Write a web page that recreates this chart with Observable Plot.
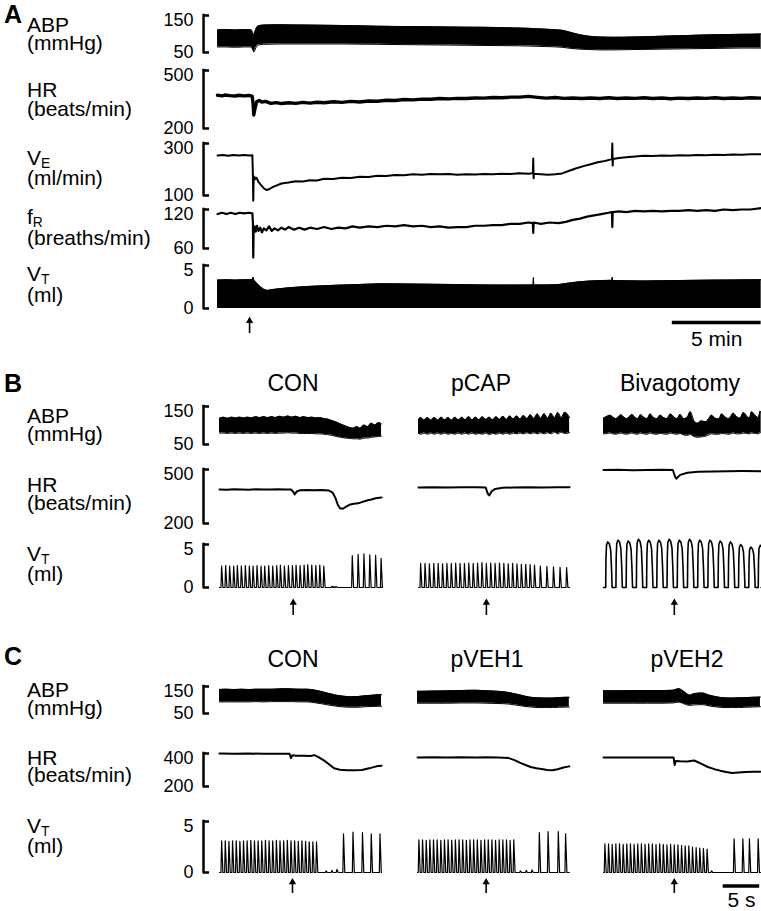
<!DOCTYPE html>
<html><head><meta charset="utf-8">
<script src="https://cdn.jsdelivr.net/npm/d3@7"></script>
<script src="https://cdn.jsdelivr.net/npm/@observablehq/plot@0.6"></script>
<style>
html,body{margin:0;padding:0;background:#fff;}
#fig{position:relative;width:761px;height:911px;overflow:hidden;font-family:"Liberation Sans",Arial,Helvetica,sans-serif;color:#000;background:#fff;}
.tx{position:absolute;white-space:nowrap;line-height:0.8;}
.tx sub{font-size:0.66em;vertical-align:-0.22em;line-height:0;}
</style></head><body><div id="fig"></div><script>
// ---------------- DATA ----------------
// Panel A, time in minutes
const aAbp = [[0,111,65],[0.5,112,65],[1.0,111,64],[1.5,112,65],[1.9,111,65],[1.98,104,58],[2.05,98,51],[2.15,112,62],[2.3,122,70],[2.6,124,72],[3.5,125,73],[5,124,73],[7,123,73],[9,121,72],[11,120,71],[13,119,70],[15,118,69],[17,116,68],[18.5,113,66],[19.4,110,64],[19.9,104,61],[20.4,98,59],[20.9,94,58],[21.5,92,57],[22.3,91,57],[23.5,92,58],[25,94,59],[26.5,96,60],[28,98,61],[29.5,99,62],[30.6,100,62]];
const aHr = [[0,372],[0.25,369],[0.4,373],[0.7,370],[1.0,368],[1.2,372],[1.5,369],[1.75,371],[1.95,367],[2.0,330],[2.04,270],[2.1,300],[2.2,338],[2.35,345],[2.5,336],[2.7,340],[3.0,330],[3.3,334],[3.6,329],[4.0,333],[4.4,330],[4.8,335],[5.2,331],[5.6,336],[6.0,333],[6.5,338],[7,335],[7.5,340],[8,337],[8.5,342],[9,341],[9.5,346],[10,345],[10.5,350],[11,348],[11.5,352],[12,351],[12.5,355],[13,353],[13.5,356],[14,355],[14.5,358],[15,357],[15.5,360],[16,359],[16.5,362],[17,362],[17.5,366],[18,361],[18.5,357],[19,360],[19.5,356],[20,358],[20.5,355],[21,358],[21.5,355],[22,359],[22.5,355],[23,358],[23.5,356],[24,359],[24.5,355],[25,358],[25.5,354],[26,357],[26.5,355],[27,358],[27.5,356],[28,359],[28.5,355],[29,358],[29.5,356],[30,359],[30.6,357]];
const aVe = [[0,254],[0.3,256],[0.6,253],[0.9,256],[1.2,254],[1.5,256],[1.8,254],[1.96,255],[1.99,180],[2.01,80],[2.03,160],[2.07,172],[2.12,163],[2.2,168],[2.3,152],[2.45,140],[2.6,128],[2.75,121],[2.9,124],[3.1,132],[3.3,138],[3.6,146],[4.0,150],[4.4,155],[4.8,154],[5.2,159],[5.6,158],[6.0,164],[6.5,163],[7,168],[7.5,167],[8,172],[8.5,171],[9,176],[9.5,175],[10,179],[10.5,178],[11,182],[11.5,180],[12,183],[12.5,182],[13,183],[13.5,180],[14,182],[14.5,181],[15,183],[15.5,182],[16,184],[16.5,183],[17,186],[17.5,184],[17.75,186],[17.77,242],[17.79,166],[17.81,184],[18.2,182],[18.6,180],[19.0,182],[19.4,185],[19.8,195],[20.2,205],[20.6,213],[21.0,220],[21.4,228],[21.8,233],[22.1,238],[22.2,240],[22.22,300],[22.24,215],[22.26,240],[22.6,244],[23,247],[23.5,250],[24,253],[24.5,252],[25,254],[25.5,253],[26,255],[26.5,254],[27,256],[27.5,255],[28,257],[28.5,256],[29,258],[29.5,257],[30,259],[30.6,259]];
const aFr = [[0,113],[0.25,115],[0.5,113],[0.75,115],[1.0,113],[1.25,115],[1.5,114],[1.75,115],[1.96,114],[1.99,100],[2.01,46],[2.03,85],[2.08,94],[2.15,86],[2.22,95],[2.3,87],[2.4,92],[2.5,85],[2.6,91],[2.75,88],[2.9,94],[3.05,87],[3.2,91],[3.4,88],[3.6,92],[3.8,89],[4.0,93],[4.3,89],[4.6,92],[4.9,89],[5.2,92],[5.6,90],[6.0,93],[6.4,90],[6.8,92],[7.2,91],[7.6,94],[8.0,92],[8.5,94],[9,93],[9.5,95],[10,94],[10.5,96],[11,94],[11.5,95],[12,93],[12.5,94],[13,92],[13.5,93],[14,93],[14.5,95],[15,95],[15.5,96],[16,96],[16.5,98],[17,98],[17.5,100],[17.75,99],[17.77,84],[17.79,100],[18.2,98],[18.7,100],[19.2,99],[19.6,101],[20,104],[20.4,106],[20.8,109],[21.2,111],[21.6,113],[22.0,115],[22.2,116],[22.22,93],[22.24,116],[22.6,117],[23,116],[23.5,118],[24,117],[24.5,118],[25,117],[25.5,118],[26,118],[26.5,119],[27,118],[27.5,119],[28,118],[28.5,120],[29,119],[29.5,120],[30,120],[30.6,122]];
const aVt = [[0,3.3],[0.5,3.35],[1,3.3],[1.5,3.35],[1.95,3.35],[2.0,3.65],[2.05,3.3],[2.2,2.95],[2.4,2.55],[2.6,2.25],[2.8,2.1],[3.1,2.2],[3.5,2.3],[4,2.4],[5,2.55],[6,2.65],[7,2.72],[8,2.8],[9.2,2.88],[10.5,2.86],[12,2.82],[13.5,2.78],[15,2.74],[16.5,2.72],[17.5,2.74],[17.76,2.74],[17.78,3.6],[17.8,2.74],[18.5,2.74],[19.2,2.78],[19.8,2.95],[20.4,3.12],[21,3.2],[21.6,3.25],[22.2,3.27],[22.22,3.65],[22.24,3.25],[23,3.22],[24,3.2],[25,3.23],[26,3.25],[27,3.28],[28,3.3],[29,3.32],[30,3.34],[30.6,3.35]];
const aArrow = [1.8];
const aScale = {len: 5, end: 30.6, label: "5 min"};

// Panel B, time in seconds
const bConAbp = [[0,119,80],[0.55,122,80],[1.1,119,79],[1.65,122,80],[2.2,120,79],[2.75,122,80],[3.3,120,79],[3.85,122,80],[4.4,120,79],[4.95,123,80],[5.5,121,79],[6.05,123,80],[6.6,121,79],[7.15,123,80],[7.7,121,79],[8.25,124,80],[8.8,122,80],[9.35,125,81],[9.9,122,80],[10.45,124,80],[11,121,79],[11.55,123,79],[12.1,121,79],[12.65,122,79],[13.2,120,78],[13.75,121,78],[14.3,118,77],[14.8,117,76],[15.4,113,74],[16,109,71],[16.6,104,69],[17.2,99,67],[17.8,95,66],[18.3,93,65],[18.8,97,65],[19.3,93,64],[19.8,101,67],[20.3,97,67],[20.8,106,69],[21.3,101,70],[21.8,108,71],[22.2,104,72]];
const bConHr = [[0,389],[1,388],[2,390],[3,389],[4,388],[5,390],[6,389],[7,389],[8,390],[9,389],[9.8,389],[10.1,376],[10.3,362],[10.6,378],[11,384],[12,386],[13,385],[14,386],[15,383],[15.5,372],[15.9,340],[16.2,305],[16.5,285],[16.9,282],[17.3,292],[17.8,304],[18.4,310],[19,312],[19.6,320],[20.2,328],[20.8,333],[21.4,340],[22.2,345]];
const bConVt = [[0.2,2.5],[0.75,2.55],[1.3,2.5],[1.85,2.5],[2.35,2.55],[2.9,2.5],[3.45,2.55],[4.0,2.5],[4.5,2.5],[5.05,2.55],[5.6,2.5],[6.1,2.5],[6.65,2.55],[7.2,2.5],[7.75,2.55],[8.25,2.6],[8.8,2.5],[9.35,2.55],[9.9,2.55],[10.4,2.6],[10.95,2.55],[11.5,2.6],[12.0,2.65],[12.55,2.6],[13.1,2.55],[13.65,2.6],[14.2,2.5],[15.3,0.15],[15.6,0.12],[15.9,0.1],[18.1,3.7],[18.9,3.85],[19.7,3.9],[20.5,3.8],[21.3,3.75],[22.05,3.4]];
const bConArrow = [10.1];
const bCapAbp = [[0,115,79],[0.3,121,77],[0.77,114,80],[1.24,121,77],[1.71,114,80],[2.18,121,77],[2.65,114,80],[3.12,122,77],[3.59,115,80],[4.06,121,77],[4.53,114,79],[5.0,122,77],[5.47,115,80],[5.94,122,77],[6.41,115,80],[6.88,123,77],[7.35,115,80],[7.82,122,77],[8.29,115,79],[8.76,123,77],[9.23,116,80],[9.7,122,76],[10.17,115,79],[10.64,123,77],[11.11,116,80],[11.58,124,77],[12.05,116,80],[12.52,125,77],[12.99,117,80],[13.46,125,78],[13.93,117,80],[14.4,126,78],[14.87,118,81],[15.34,128,78],[15.81,118,81],[16.28,130,78],[16.75,119,81],[17.22,131,78],[17.69,119,81],[18.16,132,78],[18.63,120,82],[19.1,134,78],[19.57,120,82],[20.04,135,79],[20.7,121,81]];
const bCapHr = [[0,400],[2,401],[4,400],[6,402],[8,401],[9.2,400],[9.5,365],[9.7,356],[10,378],[10.5,392],[11.5,398],[13,400],[15,401],[17,400],[19,402],[20.7,401]];
const bCapVt = [[0.2,2.8],[0.8,2.8],[1.4,2.75],[2.0,2.8],[2.6,2.8],[3.2,2.75],[3.8,2.8],[4.4,2.8],[5.0,2.85],[5.6,2.8],[6.2,2.8],[6.8,2.85],[7.4,2.8],[8.0,2.85],[8.6,2.9],[9.2,2.8],[9.8,2.85],[10.4,2.8],[11.0,2.85],[11.6,2.8],[12.2,2.75],[12.8,2.8],[13.4,2.75],[14.0,2.7],[14.6,2.7],[15.2,2.65],[15.8,2.6],[16.6,2.5],[17.5,2.45],[18.4,2.4],[19.3,2.35],[20.2,2.3]];
const bCapArrow = [9.3];
const bBivAbp = [[0,119,78],[0.5,124,79],[0.9,127,80],[1.3,122,78],[1.7,118,77],[2.1,123,79],[2.4,128,80],[2.8,122,78],[3.2,118,77],[3.6,124,79],[3.9,129,80],[4.3,122,78],[4.7,118,77],[5.1,128,80],[5.5,122,78],[6.0,118,77],[6.4,130,80],[6.8,122,78],[7.3,118,77],[7.8,127,79],[8.2,121,78],[8.7,118,77],[9.2,130,80],[9.6,123,78],[10.1,118,77],[10.5,129,79],[11.0,118,75],[11.5,122,74],[11.9,136,76],[12.4,112,71],[12.9,106,69],[13.4,112,70],[14.0,110,72],[14.5,120,76],[14.8,127,78],[15.3,119,77],[15.8,117,77],[16.2,130,79],[16.7,122,78],[17.2,118,77],[17.8,132,80],[18.2,124,78],[18.7,119,78],[19.2,134,80],[19.6,125,79],[20.0,120,78],[20.3,136,80],[20.8,126,79],[21.2,121,78],[21.5,138,81],[21.6,132,80]];
const bBivHr = [[0,497],[2,498],[4,496],[6,497],[8,498],[9.5,497],[9.8,460],[10.0,449],[10.5,470],[11.5,482],[13,487],[15,489],[17,490],[19,491],[21.6,490]];
const bBivVt = [[0.3,5.3],[1.7,5.5],[3.1,5.4],[4.5,5.6],[5.9,5.5],[7.3,5.5],[8.7,5.6],[10.1,5.5],[11.5,5.6],[12.9,5.5],[14.3,5.5],[15.7,5.4],[17.1,5.3],[18.5,5.0],[19.9,4.7],[21.2,4.9]];
const bBivArrow = [9.7];

// Panel C, time in seconds
const cConAbp = [[0,139,93],[1,140,93],[2,139,93],[3,140,93],[4,139,93],[5,140,94],[6,140,93],[7,140,94],[8,141,94],[9,142,94],[10,141,94],[11,140,93],[12,140,93],[13,137,90],[14,131,86],[15,124,81],[16,118,77],[17,114,74],[18,112,73],[19,113,73],[20,116,75],[21,118,76],[22.2,120,77]];
const cConHr = [[0,400],[2,399],[4,400],[6,398],[8,399],[9.6,398],[9.8,372],[10,390],[10.5,386],[11.5,387],[12.5,385],[13.0,390],[13.5,380],[14.3,358],[15,335],[15.7,310],[16.5,302],[17.5,298],[18.5,298],[19.5,300],[20.5,310],[21.5,322],[22.2,326]];
const cConVt = [[0.2,3.1],[0.7,3.1],[1.2,3.05],[1.7,3.1],[2.2,3.1],[2.7,3.05],[3.2,3.1],[3.7,3.1],[4.2,3.15],[4.7,3.1],[5.2,3.1],[5.7,3.1],[6.2,3.15],[6.7,3.1],[7.2,3.1],[7.7,3.15],[8.2,3.1],[8.7,3.1],[9.2,3.15],[9.7,3.1],[10.2,3.1],[10.7,3.05],[11.2,3.1],[11.7,3.05],[12.2,3.0],[12.7,3.0],[13.2,3.0],[14.5,0.15],[15.3,0.2],[16.0,0.3],[16.9,3.8],[18.2,3.95],[19.5,3.9],[20.7,3.8],[21.9,3.8]];
const cConArrow = [10.0];
const cV1Abp = [[0,132,88],[2,133,88],[4,134,88],[6,135,89],[8,136,89],[9.5,134,88],[11,132,87],[12.5,128,85],[13.5,122,81],[14.5,116,77],[15.5,110,74],[16.5,108,72],[17.5,107,72],[18.5,107,72],[19.5,109,73],[20.8,110,74]];
const cV1Hr = [[0,376],[2,377],[4,375],[6,377],[8,376],[9.5,377],[11,375],[12.5,372],[13.3,360],[14,345],[14.8,330],[15.5,318],[16.3,310],[17,306],[17.8,300],[18.5,298],[19.2,305],[20,315],[20.8,322]];
const cV1Vt = [[0.1,3.2],[0.6,3.2],[1.1,3.15],[1.6,3.2],[2.1,3.2],[2.6,3.2],[3.1,3.15],[3.6,3.2],[4.1,3.2],[4.6,3.15],[5.1,3.2],[5.6,3.2],[6.1,3.2],[6.6,3.15],[7.1,3.2],[7.6,3.2],[8.1,3.2],[8.6,3.15],[9.1,3.2],[9.6,3.2],[10.1,3.2],[10.6,3.15],[11.1,3.2],[11.6,3.2],[12.1,3.2],[12.6,3.15],[13.1,3.2],[14.0,0.15],[14.8,0.2],[15.6,0.25],[16.6,3.9],[17.8,4.0],[19.2,4.0],[20.2,3.8]];
const cV1Arrow = [9.4];
const cV2Abp = [[0,134,88],[2,134,88],[4,135,88],[6,135,88],[8,135,88],[9.5,136,89],[10.3,142,92],[11,132,86],[11.8,118,80],[12.5,124,82],[13.5,126,83],[14.5,118,78],[15.5,112,74],[16.5,108,72],[17.5,107,72],[18.5,108,72],[19.5,109,73],[20.5,110,74],[21.5,111,75]];
const cV2Hr = [[0,376],[2,376],[4,375],[6,376],[8,375],[9.6,376],[9.75,330],[9.9,355],[10.5,353],[11.5,352],[12.4,358],[12.8,350],[13.5,335],[14.3,318],[15.2,305],[16,296],[16.8,288],[17.6,282],[18.5,285],[19.5,288],[20.5,290],[21.5,290]];
const cV2Vt = [[0.1,2.8],[0.6,2.8],[1.1,2.75],[1.6,2.8],[2.1,2.8],[2.6,2.75],[3.1,2.8],[3.6,2.8],[4.1,2.75],[4.6,2.8],[5.1,2.8],[5.6,2.75],[6.1,2.8],[6.6,2.8],[7.1,2.75],[7.6,2.8],[8.1,2.75],[8.6,2.7],[9.1,2.75],[9.6,2.7],[10.1,2.7],[10.6,2.65],[11.1,2.6],[11.6,2.6],[12.1,2.5],[12.6,2.45],[13.1,2.4],[13.6,2.35],[14.1,2.3],[14.7,0.15],[17.8,3.3],[19.0,3.3],[19.9,3.3],[21.1,3.3]];
const cV2Arrow = [9.7];
const cScale = {len: 5, end: 21.4, label: "5 s"};

// ---------------- LAYOUT / STYLE ----------------
const FONT = '"Liberation Sans", Arial, Helvetica, sans-serif';
const fig = document.getElementById("fig");
const PPM = 17.77;  // px per minute, panel A
const PPS = 7.3;    // px per second, panels B, C
const SPIKE = [[0,0],[0.09,1],[0.27,0]];
const ARCH = [[0,0],[0.04,0.65],[0.11,0.93],[0.28,1],[0.5,0.96],[0.68,0.82],[0.8,0.4],[0.88,0]];
const LH = 0.8, BASE = (LH - 1.117) / 2 + 0.905;

function text(html, x, baseline, size, extra = {}) {
  const d = document.createElement("div");
  d.className = "tx";
  d.innerHTML = html;
  d.style.fontSize = size + "px";
  d.style.top = (baseline - BASE * size) + "px";
  d.style.left = x + "px";
  if (extra.center) d.style.transform = "translateX(-50%)";
  if (extra.bold) d.style.fontWeight = "bold";
  fig.appendChild(d);
}

function trace({left, top, bottom, xDomain, pps, yDomain, ticks, marks}) {
  const axis = !!ticks;
  const ml = axis ? 70 : 0, mr = 6, mt = 14, mb = 14;
  const iw = (xDomain[1] - xDomain[0]) * pps;
  const ih = bottom - top;
  const lab = {tickSize: 0, tickPadding: 10, fontSize: 18, tickFormat: d => String(d)};
  const svg = Plot.plot({
    width: iw + ml + mr, height: ih + mt + mb,
    marginLeft: ml, marginRight: mr, marginTop: mt, marginBottom: mb,
    style: {overflow: "visible", background: "transparent", fontFamily: FONT, color: "black"},
    x: {domain: xDomain, axis: null},
    y: axis ? {domain: yDomain} : {domain: yDomain, axis: null},
    marks: [
      ...(axis ? [
        Plot.ruleX([xDomain[0]], {y1: yDomain[0], y2: yDomain[1], strokeWidth: 2.5, strokeLinecap: "square"}),
        Plot.axisY({ticks, tickSize: -6, strokeWidth: 2.5, tickFormat: () => ""}),
        Plot.axisY({...lab, ticks: [yDomain[1]], dy: 5}),
        Plot.axisY({...lab, ticks: [yDomain[0]], dy: 0})
      ] : []),
      ...marks
    ]
  });
  svg.style.position = "absolute";
  svg.style.left = (left - ml) + "px";
  svg.style.top = (top - mt) + "px";
  fig.appendChild(svg);
}

function strip({left, top, h, xDomain, pps, arrows, scale, ay, sy, ty}) {
  const iw = (xDomain[1] - xDomain[0]) * pps;
  const marks = [
    Plot.ruleX(arrows, {x: d => d, y1: ay[0], y2: ay[1], strokeWidth: 1.6}),
    Plot.dot(arrows, {x: d => d, y: ay[0] + 0.06, symbol: "triangle", r: 2.7, fill: "black", stroke: null})
  ];
  if (scale) {
    marks.push(Plot.ruleY([sy], {x1: scale.end - scale.len, x2: scale.end, strokeWidth: 3.5}));
    marks.push(Plot.text([scale.label], {x: scale.end - scale.len / 2, y: ty, text: d => d, fontSize: 21, fill: "black"}));
  }
  const svg = Plot.plot({
    width: iw, height: h, margin: 0,
    style: {overflow: "visible", background: "transparent", fontFamily: FONT},
    x: {domain: xDomain, axis: null},
    y: {domain: [0, 1], range: [0, h], axis: null},
    marks
  });
  svg.style.position = "absolute";
  svg.style.left = left + "px";
  svg.style.top = top + "px";
  fig.appendChild(svg);
}

const band = (data) => [
  Plot.areaY(data, {x: d => d[0], y1: d => d[2], y2: d => d[1], fill: "black", curve: "monotone-x"}),
  Plot.line(data, {x: d => d[0], y: d => d[1], stroke: "black", strokeWidth: 1, curve: "monotone-x"}),
  Plot.line(data, {x: d => d[0], y: d => d[2], stroke: "black", strokeWidth: 1, curve: "monotone-x"})
];
const trace1 = (data, w = 1.6) => [Plot.line(data, {x: d => d[0], y: d => d[1], stroke: "black", strokeWidth: w, strokeLinejoin: "round"})];
function breaths(data, shape, t0, t1, w = 1.2) {
  const pts = [[t0, 0]];
  for (const [t, p] of data) for (const [dt, f] of shape) pts.push([t + dt, p * f]);
  pts.push([t1, 0]);
  return [Plot.line(pts, {x: d => d[0], y: d => d[1], stroke: "black", strokeWidth: w, strokeLinejoin: "round"})];
}
const solidVt = (data) => [
  Plot.areaY(data, {x: d => d[0], y1: 0, y2: d => d[1], fill: "black"}),
  Plot.line(data, {x: d => d[0], y: d => d[1], stroke: "black", strokeWidth: 1})
];

// ---------------- PANEL A ----------------
const aX = [-(217 - 203) / PPM, 30.6];
trace({left: 203, top: 15, bottom: 52, xDomain: aX, pps: PPM, yDomain: [50, 150], ticks: [50, 150], marks: band(aAbp)});
trace({left: 203, top: 70, bottom: 128, xDomain: aX, pps: PPM, yDomain: [200, 500], ticks: [200, 500], marks: trace1(aHr, 3.4)});
trace({left: 203, top: 143, bottom: 195, xDomain: aX, pps: PPM, yDomain: [100, 300], ticks: [100, 300], marks: trace1(aVe, 2)});
trace({left: 203, top: 209, bottom: 248, xDomain: aX, pps: PPM, yDomain: [60, 120], ticks: [60, 120], marks: trace1(aFr, 2.2)});
trace({left: 203, top: 265, bottom: 308, xDomain: aX, pps: PPM, yDomain: [0, 5], ticks: [0, 5], marks: solidVt(aVt)});
strip({left: 203, top: 314, h: 36, xDomain: aX, pps: PPM, arrows: aArrow, scale: aScale, ay: [0.12, 0.53], sy: 0.22, ty: 0.7});

// ---------------- PANEL B ----------------
const c1X = [-(219 - 203) / PPS, 22.2];
const bCols = [
  {left: 203, x: c1X, abp: bConAbp, hr: bConHr, vt: bConVt, arrow: bConArrow, shape: SPIKE, axis: true},
  {left: 418, x: [0, 20.7], abp: bCapAbp, hr: bCapHr, vt: bCapVt, arrow: bCapArrow, shape: SPIKE},
  {left: 603, x: [0, 21.6], abp: bBivAbp, hr: bBivHr, vt: bBivVt, arrow: bBivArrow, shape: ARCH}
];
for (const c of bCols) {
  trace({left: c.left, top: 406, bottom: 444, xDomain: c.x, pps: PPS, yDomain: [50, 150], ticks: c.axis && [50, 150], marks: band(c.abp)});
  trace({left: c.left, top: 469, bottom: 523, xDomain: c.x, pps: PPS, yDomain: [200, 500], ticks: c.axis && [200, 500], marks: trace1(c.hr, 2)});
  trace({left: c.left, top: 544, bottom: 587, xDomain: c.x, pps: PPS, yDomain: [0, 5], ticks: c.axis && [0, 5], marks: breaths(c.vt, c.shape, Math.max(0, c.x[0]), c.x[1], c.shape === ARCH ? 1.6 : 1.2)});
  strip({left: c.left, top: 598, h: 20, xDomain: c.x, pps: PPS, arrows: c.arrow, ay: [0.15, 0.85]});
}

// ---------------- PANEL C ----------------
const cCols = [
  {left: 203, x: c1X, abp: cConAbp, hr: cConHr, vt: cConVt, arrow: cConArrow, axis: true},
  {left: 417, x: [0, 20.8], abp: cV1Abp, hr: cV1Hr, vt: cV1Vt, arrow: cV1Arrow},
  {left: 603, x: [0, 21.5], abp: cV2Abp, hr: cV2Hr, vt: cV2Vt, arrow: cV2Arrow, scale: cScale}
];
for (const c of cCols) {
  trace({left: c.left, top: 686, bottom: 713, xDomain: c.x, pps: PPS, yDomain: [50, 150], ticks: c.axis && [50, 150], marks: band(c.abp)});
  trace({left: c.left, top: 753, bottom: 786, xDomain: c.x, pps: PPS, yDomain: [200, 400], ticks: c.axis && [200, 400], marks: trace1(c.hr, 2)});
  trace({left: c.left, top: 821, bottom: 872, xDomain: c.x, pps: PPS, yDomain: [0, 5], ticks: c.axis && [0, 5], marks: breaths(c.vt, SPIKE, Math.max(0, c.x[0]), c.x[1])});
  strip({left: c.left, top: 876, h: 32, xDomain: c.x, pps: PPS, arrows: c.arrow, scale: c.scale, ay: [0.12, 0.53], sy: 0.3, ty: 0.74});
}

// ---------------- TEXT ----------------
text("A", 4, 22.5, 25, {bold: true});
text("B", 4, 392, 25, {bold: true});
text("C", 4, 665, 25, {bold: true});
const L = 27, FS = 21;
text("ABP", L, 33, FS); text("(mmHg)", L, 51, FS);
text("HR", L, 98, FS); text("(beats/min)", L, 117, FS);
text("V<sub>E</sub>", L, 166, FS); text("(ml/min)", L, 186, FS);
text("f<sub>R</sub>", L, 225, FS); text("(breaths/min)", L, 246, FS);
text("V<sub>T</sub>", L, 282, FS); text("(ml)", L, 303, FS);

text("ABP", L, 424, FS); text("(mmHg)", L, 442, FS);
text("HR", L, 493, FS); text("(beats/min)", L, 511, FS);
text("V<sub>T</sub>", L, 562, FS); text("(ml)", L, 582, FS);

text("ABP", L, 698, FS); text("(mmHg)", L, 716, FS);
text("HR", L, 766, FS); text("(beats/min)", L, 783, FS);
text("V<sub>T</sub>", L, 834, FS); text("(ml)", L, 854, FS);

text("CON", 293, 391, 23, {center: true});
text("pCAP", 481, 391, 23, {center: true});
text("Bivagotomy", 680, 391, 23, {center: true});
text("CON", 293, 667, 23, {center: true});
text("pVEH1", 487, 667, 23, {center: true});
text("pVEH2", 687, 667, 23, {center: true});
</script></body></html>
